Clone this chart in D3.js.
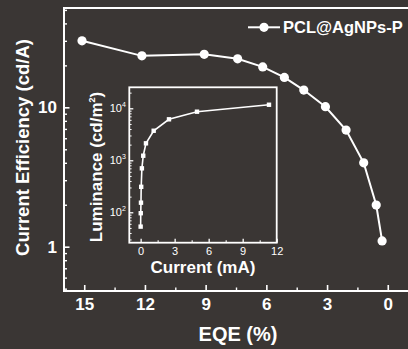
<!DOCTYPE html>
<html>
<head>
<meta charset="utf-8">
<script src="https://cdn.jsdelivr.net/npm/d3@7"></script>
<style>
  html, body { margin: 0; padding: 0; background: #3a3634; }
  svg { display: block; }
  text, tspan { font-family: "Liberation Sans", Arial, sans-serif; fill: #ffffff; }
</style>
</head>
<body>
<svg id="chart" width="408" height="349"></svg>
<script>
// ---- data ----
const eqe = [15.11, 12.15, 9.07, 7.42, 6.18, 5.11, 4.15, 3.08, 2.06, 1.19, 0.57, 0.28];
const currentEfficiency = [30.0, 23.4, 24.0, 22.3, 19.5, 16.4, 13.3, 10.1, 6.87, 4.0, 1.99, 1.10];
const seriesName = "PCL@AgNPs-P";

const insetCurrent = [0.0, 0.01, 0.03, 0.05, 0.11, 0.23, 0.47, 1.15, 2.50, 4.97, 11.32];
const insetLuminance = [53, 96, 153, 309, 700, 1225, 2120, 3700, 6140, 8600, 11700];

const xTicks = [15, 12, 9, 6, 3, 0];
const xMinorTicks = [13.5, 10.5, 7.5, 4.5, 1.5];
const yTicks = [1, 10];
const yMinorTicks = [0.5, 0.6, 0.7, 0.8, 0.9, 2, 3, 4, 5, 6, 7, 8, 9, 20, 30, 40, 50];
const insetXTicks = [0, 3, 6, 9, 12];
const insetXMinorTicks = [1.5, 4.5, 7.5, 10.5];
const insetYTicks = [100, 1000, 10000];
const insetYTickExp = ["2", "3", "4"];

// ---- layout ----
const svg = d3.select("#chart");
const M = { left: 64, top: 8, right: 408, bottom: 291 };

const x = d3.scaleLinear().domain([16, -1]).range([M.left, M.right]);
const y = d3.scaleLog().domain([0.481, 51.6]).range([M.bottom, M.top]);

const white = "#ffffff";

function styleAxis(g, sw) {
  g.select(".domain").remove();
  g.selectAll(".tick line").attr("stroke", white).attr("stroke-width", sw);
}

// main ticks
const gx = svg.append("g").attr("transform", `translate(0,${M.bottom})`)
  .call(d3.axisBottom(x).tickValues(xTicks).tickSize(-6).tickPadding(7).tickFormat(d3.format("d")));
styleAxis(gx, 1.6);
gx.selectAll("text").attr("font-size", "17px").attr("font-weight", "bold").attr("fill", white);
const gxm = svg.append("g").attr("transform", `translate(0,${M.bottom})`)
  .call(d3.axisBottom(x).tickValues(xMinorTicks).tickSize(-3.5).tickFormat(""));
styleAxis(gxm, 1.4);

const gy = svg.append("g").attr("transform", `translate(${M.left},0)`)
  .call(d3.axisLeft(y).tickValues(yTicks).tickSize(-5.5).tickPadding(7).tickFormat(d3.format("d")));
styleAxis(gy, 1.6);
gy.selectAll("text").attr("font-size", "17px").attr("font-weight", "bold").attr("fill", white);
const gym = svg.append("g").attr("transform", `translate(${M.left},0)`)
  .call(d3.axisLeft(y).tickValues(yMinorTicks).tickSize(-3).tickFormat(""));
styleAxis(gym, 1.4);

// main frame (left, top, bottom; right side beyond view)
svg.append("path")
  .attr("d", `M${M.right + 2},${M.top}H${M.left}V${M.bottom}H${M.right + 2}`)
  .attr("fill", "none").attr("stroke", white).attr("stroke-width", 2);

// main series
const line = d3.line().x((d, i) => x(eqe[i])).y(d => y(d));
svg.append("path").datum(currentEfficiency)
  .attr("d", line).attr("fill", "none").attr("stroke", white).attr("stroke-width", 2);
svg.append("g").selectAll("circle").data(currentEfficiency).join("circle")
  .attr("cx", (d, i) => x(eqe[i])).attr("cy", d => y(d)).attr("r", 4.6).attr("fill", white);

// legend
const lg = svg.append("g");
lg.append("line").attr("x1", 248).attr("x2", 280).attr("y1", 27.3).attr("y2", 27.3)
  .attr("stroke", white).attr("stroke-width", 2);
lg.append("circle").attr("cx", 264).attr("cy", 27.3).attr("r", 4.6).attr("fill", white);
lg.append("text").attr("x", 283).attr("y", 33.3).attr("font-size", "16.5px").attr("font-weight", "bold")
  .text(seriesName);

// main axis titles
svg.append("text").attr("transform", "translate(29.3,147.5) rotate(-90)")
  .attr("text-anchor", "middle").attr("font-size", "18.5px").attr("font-weight", "bold")
  .text("Current Efficiency (cd/A)");
svg.append("text").attr("x", 238).attr("y", 340.7)
  .attr("text-anchor", "middle").attr("font-size", "20px").attr("font-weight", "bold")
  .text("EQE (%)");

// ---- inset ----
const I = { left: 129.3, top: 87.3, right: 276.7, bottom: 242.7 };
const ix = d3.scaleLinear().domain([-1, 12]).range([I.left, I.right]);
const iy = d3.scaleLog().domain([26.0, 25340]).range([I.bottom, I.top]);

const igx = svg.append("g").attr("transform", `translate(0,${I.bottom})`)
  .call(d3.axisBottom(ix).tickValues(insetXTicks).tickSize(-4).tickPadding(4.5).tickFormat(d3.format("d")));
styleAxis(igx, 1.3);
igx.selectAll("text").attr("font-size", "11px").attr("fill", white);
const igxm = svg.append("g").attr("transform", `translate(0,${I.bottom})`)
  .call(d3.axisBottom(ix).tickValues(insetXMinorTicks).tickSize(-2.5).tickFormat(""));
styleAxis(igxm, 1.1);

const igy = svg.append("g").attr("transform", `translate(${I.left},0)`)
  .call(d3.axisLeft(iy).tickValues(insetYTicks).tickSize(-4).tickFormat(""));
styleAxis(igy, 1.3);
const insetMinor = [];
[10, 100, 1000, 10000].forEach(dec => { for (let k = 2; k <= 9; k++) { const v = dec * k; if (v >= 26 && v <= 25340) insetMinor.push(v); } });
const igym = svg.append("g").attr("transform", `translate(${I.left},0)`)
  .call(d3.axisLeft(iy).tickValues(insetMinor).tickSize(-2.3).tickFormat(""));
styleAxis(igym, 1.0);

// inset y tick labels 10^n
const iyl = svg.append("g").selectAll("text").data(insetYTicks).join("text")
  .attr("x", I.left - 3.5).attr("y", d => iy(d) + 4)
  .attr("text-anchor", "end").attr("font-size", "11px").attr("fill", white);
iyl.append("tspan").attr("fill", white).text("10");
iyl.append("tspan").attr("dy", -5).attr("font-size", "7px").attr("fill", white).text((d, i) => insetYTickExp[i]);

// inset frame
svg.append("rect").attr("x", I.left).attr("y", I.top)
  .attr("width", I.right - I.left).attr("height", I.bottom - I.top)
  .attr("fill", "none").attr("stroke", white).attr("stroke-width", 1.8);

// inset series
const iline = d3.line().x((d, i) => ix(insetCurrent[i])).y(d => iy(d));
svg.append("path").datum(insetLuminance)
  .attr("d", iline).attr("fill", "none").attr("stroke", white).attr("stroke-width", 1.6);
svg.append("g").selectAll("rect").data(insetLuminance).join("rect")
  .attr("x", (d, i) => ix(insetCurrent[i]) - 2.2).attr("y", d => iy(d) - 2.2)
  .attr("width", 4.4).attr("height", 4.4).attr("fill", white);

// inset titles
const il = svg.append("text").attr("transform", "translate(102,167) rotate(-90)")
  .attr("text-anchor", "middle").attr("font-size", "17px").attr("font-weight", "bold");
il.append("tspan").text("Luminance (cd/m");
il.append("tspan").attr("dy", -7).attr("font-size", "9px").text("2");
il.append("tspan").attr("dy", 7).text(")");
svg.append("text").attr("x", 203).attr("y", 273)
  .attr("text-anchor", "middle").attr("font-size", "17px").attr("font-weight", "bold")
  .text("Current (mA)");
</script>
</body>
</html>
